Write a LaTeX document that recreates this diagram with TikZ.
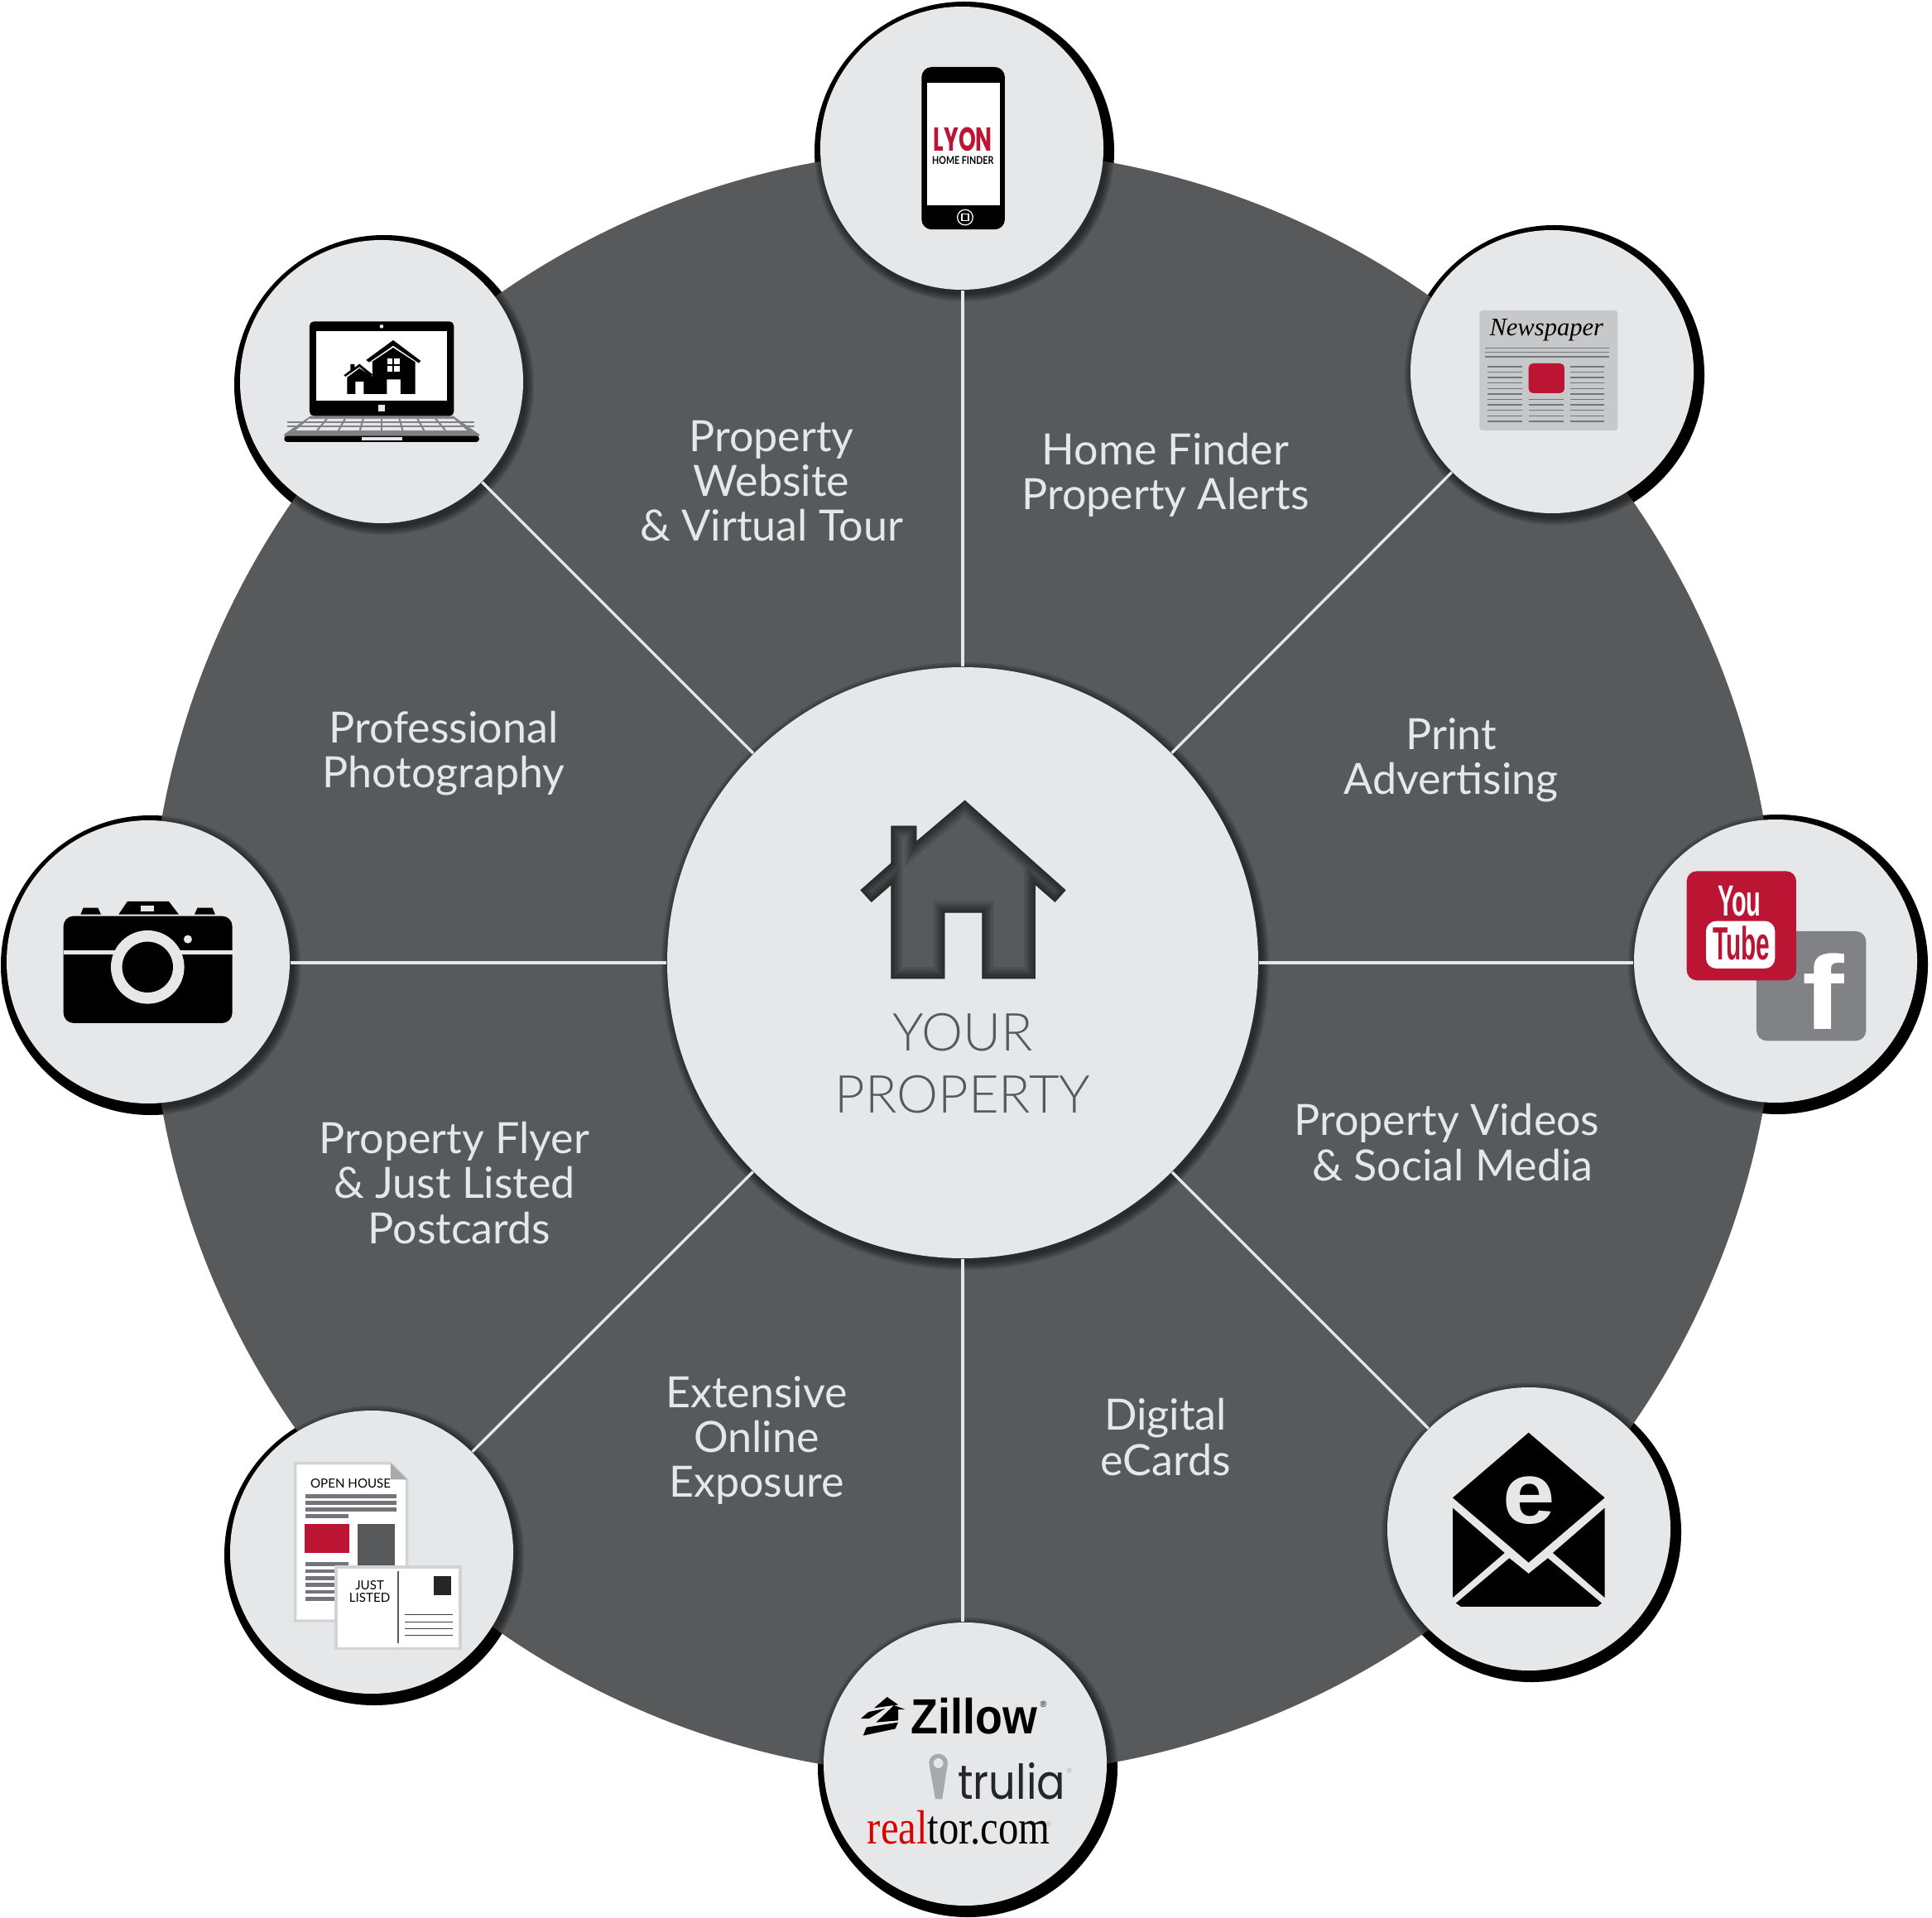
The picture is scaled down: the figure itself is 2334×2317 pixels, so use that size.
\documentclass[tikz,border=0pt]{standalone}
\usepackage{fontspec}
\setmainfont{Lato}
\newfontfamily\lightfont{Lato Light}
\newfontfamily\heavyfont{Liberation Sans}
\newfontfamily\serifmark{Liberation Serif}
\newfontfamily\roundfont{Poppins}
\definecolor{wheelgray}{HTML}{58595B}
\definecolor{discgray}{HTML}{E6E7E8}
\definecolor{brandred}{HTML}{BC1433}
\definecolor{paneldark}{HTML}{808285}
\definecolor{paperedge}{HTML}{D1D3D4}
\definecolor{pingray}{HTML}{A7A9AC}
\definecolor{newsgray}{HTML}{C6C8CA}
\newcommand{\satlist}{phone/1162/179,paper/1875/449,social/2145/1161,mail/1847/1847,portals/1166/2131,flyer/449/1875,camera/179/1162,laptop/461/461}
\newcommand{\houseoutline}{(557,110) -- (923,436) -- (884,480) -- (813,418) -- (813,757) -- (619,757) -- (619,518) -- (484,518) -- (484,757) -- (289,757) -- (289,418) -- (218,480) -- (178,436) -- (289,338) -- (289,203) -- (382,203) -- (382,258) -- cycle}
\begin{document}
\begin{tikzpicture}[x=0.1mm, y=-0.1mm,
    spoke/.style={discgray, line width=0.95pt},
    satdisc/.style={circle, fill=discgray, minimum size=34.2mm, inner sep=0pt},
    wedgetext/.style={text=discgray, align=center, font=\fontsize{14.8}{15.4}\selectfont},
    cropgrid/.style={x=0.03333mm, y=-0.03333mm}]
\useasboundingbox (0,0) rectangle (2334,2317);
% Black crescents behind the wheel
\foreach \name/\px/\py in \satlist
  \fill[black] ({\px+3},{\py+4}) circle (181);
% Wheel
\node[circle, fill=wheelgray, minimum size=196.6mm, inner sep=0pt] (wheel) at (1163,1163) {};
% Soft shadows
\foreach \name/\px/\py in \satlist
  \foreach \r in {173,175,177,179,181}
    \fill[black, opacity=0.13] ({\px+3},{\py+4}) circle (\r);
\foreach \r in {359,361,363,365,367}
  \fill[black, opacity=0.13] (1166,1167) circle (\r);
% Hub and satellites
\node[circle, fill=discgray, minimum size=71.4mm, inner sep=0pt] (hub) at (1163,1163) {};
\foreach \name/\px/\py in \satlist
  \node[satdisc] (\name) at (\px,\py) {};
% Spokes
\draw[spoke] (hub.north) -- (hub.north |- phone.south);
\draw[spoke] (hub.south) -- (hub.south |- portals.north);
\draw[spoke] (hub.east) -- (hub.east -| social.west);
\draw[spoke] (hub.west) -- (hub.west -| camera.east);
\foreach \name in {paper,mail,flyer,laptop}
  \draw[spoke] (hub) -- (\name);
% Wedge texts
\node[wedgetext] (tour) at (932,581) {Property\\Website\\\& Virtual Tour};
\node[wedgetext] (alerts) at (1408,574) {Home Finder\\Property Alerts};
\node[wedgetext] (print) at (1753,918) {Print\\Advertising};
\node[wedgetext] (videos) at (1748,1380) {Property Videos\\\hspace*{0.14cm}\& Social Media};
\node[wedgetext] (ecards) at (1408,1736) {Digital\\eCards};
\node[wedgetext] (online) at (914,1740) {Extensive\\Online\\Exposure};
\node[wedgetext] (postcards) at (549,1429) {Property Flyer\\\& Just Listed\\\hspace*{0.12cm}Postcards};
\node[wedgetext] (photo) at (536,910) {Professional\\Photography};
% Hub house
\begin{scope}[shift={(980,930)},cropgrid]
\fill[wheelgray] \houseoutline;
\clip \houseoutline;
\foreach \w in {1.5,3,4.5,6,8}
  \draw[black, opacity=0.12, line width=\w pt] \houseoutline;
\end{scope}
\node[text=wheelgray, align=center, font=\lightfont\fontsize{18}{21.3}\selectfont] (yours) at (1163,1285) {YOUR\\PROPERTY};
% Phone
\begin{scope}[shift={(950,0)},cropgrid]
\fill[black, rounded corners=3.5pt] (490,243) rectangle (792,832);
\fill[white] (510,300) rectangle (773,743);
\draw[white, line width=0.35pt] (648,788) circle (28);
\draw[white, line width=0.35pt] (636,776) rectangle (660,800);
\node[text=brandred, font=\roundfont\bfseries\fontsize{11.4}{11.4}\selectfont, xscale=0.66, transform shape, inner sep=0pt] (lyon) at (640,505) {LYON};
\node[font=\fontsize{3.7}{3.7}\selectfont\bfseries, xscale=0.82, transform shape, inner sep=0pt] (finder) at (640,583) {HOME FINDER};
\end{scope}
% Newspaper
\begin{scope}[shift={(1680,260)},cropgrid]
\fill[newsgray, rounded corners=1pt] (322,345) rectangle (823,780);
\node[font=\serifmark\itshape\fontsize{8.7}{8.7}\selectfont, anchor=base, inner sep=0pt] (masthead) at (565,437) {Newspaper};
\foreach \y in {482,497,513}
  \draw[pingray!70!black, line width=0.5pt] (342,\y) -- (792,\y);
\foreach \k in {0,...,10} {
  \draw[pingray!70!black, line width=0.4pt] (352,{549+\k*19.8}) -- (476,{549+\k*19.8});
  \draw[pingray!70!black, line width=0.4pt] (651,{549+\k*19.8}) -- (775,{549+\k*19.8});
}
\foreach \k in {6,...,10}
  \draw[pingray!70!black, line width=0.4pt] (502,{549+\k*19.8}) -- (626,{549+\k*19.8});
\fill[brandred, rounded corners=1.5pt] (500,537) rectangle (630,645);
\end{scope}
% YouTube and Facebook
\begin{scope}[shift={(1960,970)},cropgrid]
\fill[paneldark, rounded corners=3.5pt] (486,465) rectangle (883,862);
\node[text=white, font=\heavyfont\bfseries\fontsize{36}{36}\selectfont, xscale=1.2, transform shape, anchor=base, inner sep=0pt] (fbook) at (727,822) {f};
\fill[brandred, rounded corners=3.5pt] (233,247) rectangle (630,643);
\node[text=white, font=\heavyfont\bfseries\fontsize{15}{15}\selectfont, xscale=0.55, transform shape, anchor=base, inner sep=0pt] (you) at (424,410) {You};
\fill[white, rounded corners=3.5pt] (303,428) rectangle (553,600);
\node[text=brandred, font=\heavyfont\bfseries\fontsize{16}{16}\selectfont, xscale=0.53, transform shape, anchor=base, inner sep=0pt] (tube) at (432,570) {Tube};
\end{scope}
% Envelope
\begin{scope}[shift={(1660,1670)},cropgrid]
\fill[black] (560,182) -- (836,418) -- (560,653) -- (285,418) -- cycle;
\fill[black] (285,455) -- (473,618) -- (285,780) -- cycle;
\fill[black] (836,455) -- (648,618) -- (836,780) -- cycle;
\fill[black] (297,800) -- (490,637) -- (560,693) -- (630,637) -- (825,800) -- (810,813) -- (315,813) -- cycle;
\node[text=discgray, font=\heavyfont\bfseries\fontsize{30}{30}\selectfont, xscale=1.08, transform shape, anchor=base, inner sep=0pt] (etext) at (562,512) {e};
\end{scope}
% Zillow mark
\begin{scope}[shift={(1030,2040)},cropgrid]
\fill[black] (125,30) -- (165,58) -- (78,70) -- cycle;
\fill[black] (150,60) -- (190,75) -- (165,75) -- (165,115) -- (85,122) -- cycle;
\fill[black] (30,108) -- (58,84) -- (118,72) -- (60,108) -- cycle;
\fill[black] (38,170) -- (50,140) -- (165,122) -- (155,145) -- cycle;
\end{scope}
% Portal names
\begin{scope}[shift={(960,1950)},cropgrid]
\node[font=\heavyfont\bfseries\fontsize{17}{17}\selectfont, xscale=0.9, transform shape, anchor=base west, inner sep=0pt] (zillow) at (420,433) {Zillow};
\node[font=\heavyfont\fontsize{3}{3}\selectfont, inner sep=0pt] (zillowreg) at (902,327) {®};
\fill[pingray, even odd rule] (487,540) -- (510,670) -- (535,670) -- (555,540) arc[start angle=0, end angle=-180, radius=34] -- cycle (521,540) circle (18);
\node[text=black!85, font=\roundfont\fontsize{16.5}{16.5}\selectfont, xscale=0.88, transform shape, anchor=base west, inner sep=0pt] (trulia) at (590,670) {trulia};
\node[text=pingray, font=\heavyfont\fontsize{2.5}{2.5}\selectfont, inner sep=0pt] (truliareg) at (996,568) {®};
\node[font=\serifmark\fontsize{16.5}{16.5}\selectfont, xscale=0.84, transform shape, anchor=base west, inner sep=0pt] (realtor) at (262,833) {\textcolor{red!85!black}{real}tor.com};
\node[text=pingray, font=\heavyfont\fontsize{2.5}{2.5}\selectfont, inner sep=0pt] (realtorreg) at (921,762) {®};
\end{scope}
% Flyer and postcard
\begin{scope}[shift={(260,1690)},cropgrid]
\filldraw[fill=white, draw=paperedge, line width=0.95pt] (290,233) -- (636,233) -- (695,292) -- (695,804) -- (290,804) -- cycle;
\fill[pingray] (636,232) -- (636,292) -- (695,292) -- cycle;
\node[font=\fontsize{4.3}{4.3}\selectfont, inner sep=0pt] (openhouse) at (491,307) {OPEN HOUSE};
\foreach \y in {344,369,393}
  \fill[paneldark!90!black] (327,\y) rectangle (658,{\y+15});
\fill[paneldark!90!black] (327,418) rectangle (482,432);
\fill[brandred] (323,453) rectangle (487,558);
\fill[wheelgray] (515,453) rectangle (650,610);
\foreach \y in {592,617,642,667,692,717}
  \fill[paneldark!90!black] (327,\y) rectangle (484,{\y+14});
\filldraw[fill=white, draw=paperedge, line width=0.95pt] (438,609) rectangle (888,905);
\draw[wheelgray, line width=0.4pt] (663,625) -- (663,885);
\fill[black!85] (792,642) rectangle (855,710);
\foreach \y in {782,808,833,858}
  \draw[black!75, line width=0.3pt] (688,\y) -- (860,\y);
\node[align=center, font=\fontsize{4.3}{4.5}\selectfont, inner sep=0pt] (justlisted) at (560,698) {JUST\\LISTED};
\end{scope}
% Camera
\begin{scope}[shift={(0,960)},cropgrid]
\fill[black, rounded corners=3.5pt] (230,440) rectangle (842,828);
\fill[discgray] (230,565) rectangle (842,580);
\fill[discgray] (535,625) circle (133);
\fill[black] (535,625) circle (92);
\fill[discgray] (681,524) circle (15);
\fill[black] (430,434) -- (462,387) -- (612,387) -- (648,434) -- cycle;
\fill[discgray] (511,402) rectangle (559,422);
\fill[black] (292,434) -- (302,410) -- (355,410) -- (366,434) -- cycle;
\fill[black] (705,434) -- (716,410) -- (770,410) -- (780,434) -- cycle;
\end{scope}
% Laptop
\begin{scope}[shift={(280,280)},cropgrid]
\fill[black, rounded corners=1.5pt] (282,325) rectangle (805,668);
\fill[white] (307,360) rectangle (780,613);
\fill[discgray] (543,343) circle (7);
\fill[discgray] (532,628) rectangle (555,650);
\fill[paneldark] (285,668) -- (803,668) -- (897,734) -- (897,742) -- (190,742) -- (190,734) -- cycle;
\fill[black, rounded corners=1pt] (190,740) rectangle (897,762);
\fill[discgray] (472,745) rectangle (617,757);
\fill[discgray] (280,678) -- (805,678) -- (852,720) -- (232,720) -- cycle;
\foreach \y in {690,706}
  \draw[paneldark, line width=0.6pt] (200,\y) -- (880,\y);
\foreach \t in {1,...,7}
  \draw[paneldark, line width=0.6pt] ({542+(\t/8-0.5)*525},678) -- ({542+(\t/8-0.5)*620},720);
% Houses on the screen
\fill[black] (585,393) -- (685,468) -- (678,476) -- (585,413) -- (498,473) -- (487,465) -- cycle;
\fill[black] (585,420) -- (665,472) -- (665,588) -- (612,588) -- (612,535) -- (562,535) -- (562,588) -- (478,588) -- (478,543) -- (448,543) -- (448,588) -- (418,588) -- (418,528) -- (463,495) -- (510,525) -- (510,470) -- cycle;
\fill[black] (430,480) -- (445,480) -- (445,492) -- (463,479) -- (510,517) -- (505,525) -- (463,490) -- (412,525) -- (406,520) -- (430,502) -- cycle;
\fill[white] (565,460) rectangle (583,481);
\fill[white] (588,460) rectangle (609,481);
\fill[white] (565,486) rectangle (583,506);
\fill[white] (588,486) rectangle (609,506);
\end{scope}
\end{tikzpicture}
\end{document}
